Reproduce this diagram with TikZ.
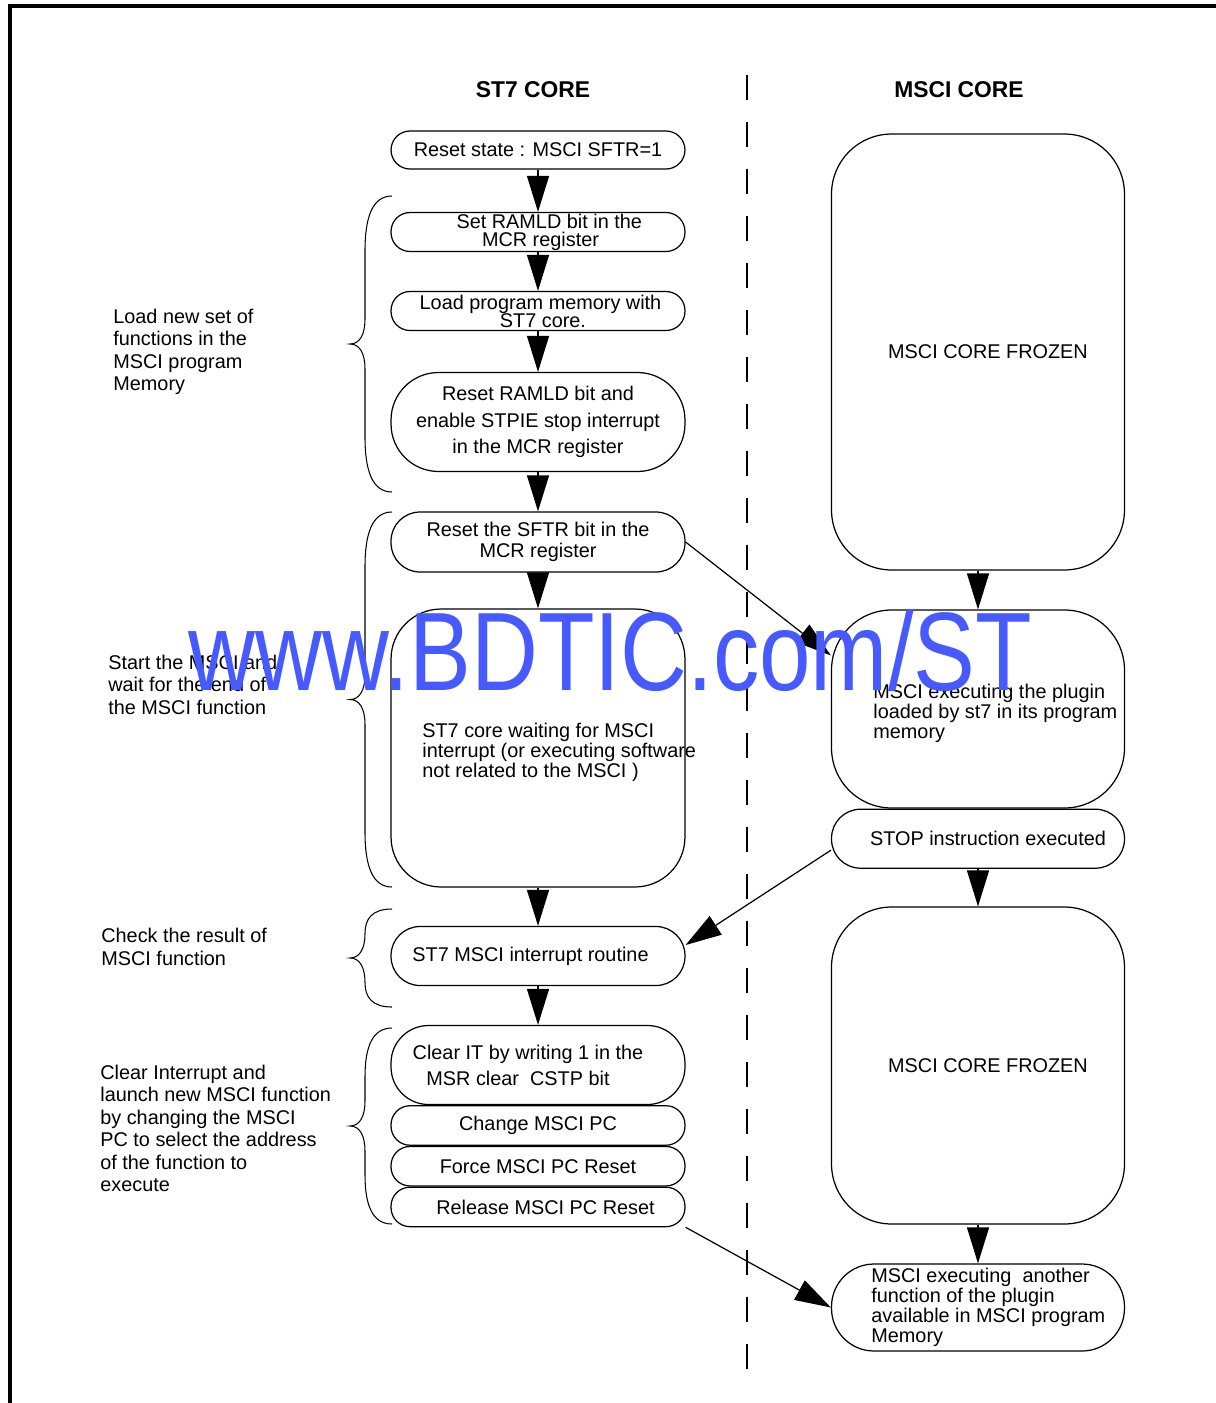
\documentclass[tikz,border=0pt]{standalone}
\usepackage{fontspec}
\setmainfont{Liberation Sans}
\usetikzlibrary{arrows.meta,positioning}
\definecolor{wmblue}{RGB}{70,90,255}

\begin{document}
\begin{tikzpicture}[
    x=0.02cm, y=-0.02cm,
    box/.style={draw, line width=0.7pt, rounded corners=0.38cm, minimum width=5.88cm, minimum height=0.78cm, inner xsep=2pt, inner ysep=0pt, align=center, font=\fontsize{11.3}{11.4}\selectfont},
    bigbox/.style={box, rounded corners=1.2cm},
    inner/.style={align=left, inner sep=0pt, font=\fontsize{11.3}{11.4}\selectfont},
    note/.style={align=left, inner sep=0pt, anchor=west, font=\fontsize{11.3}{12.8}\selectfont},
    header/.style={font=\bfseries\fontsize{13}{15}\selectfont},
    flow/.style={-{Triangle[length=0.72cm,width=0.44cm]}, line width=0.7pt},
    divider/.style={line width=1.2pt, dash pattern=on 0.5cm off 0.44cm},
    frame/.style={line width=2pt},
    watermark/.style={text=wmblue, inner sep=0pt, anchor=base west, font=\fontsize{63.5}{64}\selectfont},
    pics/lbrace/.style={code={
        \pgfmathsetmacro\brH{#1/2}
        \pgfmathsetmacro\brC{min(55,#1/4)}
        \pgfmathsetmacro\brT{min(25,#1/4)}
        \draw[line width=0.6pt] (0,0) .. controls (-20,0) and (-27,{0.4*\brC}) .. (-27,\brC)
            -- (-27,{\brH-\brT}) .. controls (-27,{\brH-0.4*\brT}) and (-32,\brH) .. (-42,\brH)
            .. controls (-32,\brH) and (-27,{\brH+0.4*\brT}) .. (-27,{\brH+\brT})
            -- (-27,{#1-\brC}) .. controls (-27,{#1-0.4*\brC}) and (-20,#1) .. (0,#1);
    }}
]
    \useasboundingbox (0,0) rectangle (1216,1403);
    \draw[frame] (10,1403) -- (10,6) -- (1216,6);
    \draw[divider] (747,75) -- (747,1385);

    \node[header] (st7head) at (533,90) {ST7 CORE};
    \node[header] (mscihead) at (959,90) {MSCI CORE};

    % ST7 side
    \node (reset) [box, minimum height=0.76cm] at (538,150) {Reset state : MSCI SFTR=1};
    \node (setram) [box, font=\fontsize{11.3}{10.3}\selectfont] at (538,232) {\hspace*{0.45cm}Set RAMLD bit in the\\\hspace*{0.1cm}MCR register};
    \node (load) [box, font=\fontsize{11.3}{10.3}\selectfont] at (538,311) {\hspace*{0.1cm}Load program memory with\\\hspace*{0.2cm}ST7 core.};
    \node (resram) [box, rounded corners=0.95cm, minimum height=1.98cm, font=\fontsize{11.3}{15.2}\selectfont] at (538,422) {Reset RAMLD bit and\\enable STPIE stop interrupt\\in the MCR register};
    \node (sftr) [box, rounded corners=0.58cm, minimum height=1.2cm, font=\fontsize{11.3}{12}\selectfont] at (538,542) {Reset the SFTR bit in the\\MCR register};
    \node (wait) [box, rounded corners=1cm, minimum height=5.56cm] at (538,748) {};
    \node (waittxt) [inner, anchor=west] at (422,752) {ST7 core waiting for MSCI\\interrupt (or executing software\\not related to the MSCI )};
    \node (irq) [box, rounded corners=0.58cm, minimum height=1.18cm] at (538,956) {ST7 MSCI interrupt routine\hspace*{0.3cm}};
    \node (clrit) [box, rounded corners=0.75cm, minimum height=1.58cm, font=\fontsize{11.3}{14.8}\selectfont] at (538,1065) {Clear IT by writing 1 in the\hspace*{0.4cm}\\MSR clear\ \ CSTP bit\hspace*{0.8cm}};
    \node (chpc) [box, minimum height=0.79cm, below=0pt of clrit] {Change MSCI PC};
    \node (forcepc) [box, minimum height=0.79cm, below=0pt of chpc] {Force MSCI PC Reset};
    \node (relpc) [box, minimum height=0.79cm, below=0pt of forcepc] {\hspace*{0.3cm}Release MSCI PC Reset};

    % MSCI side
    \node (frozen) [bigbox, minimum width=5.86cm, minimum height=8.72cm] at (978,352) {\hspace*{0.4cm}MSCI CORE FROZEN};
    \node (plugin) [bigbox, minimum width=5.86cm, minimum height=3.96cm] at (978,709) {};
    \node (plugintxt) [inner, anchor=west] at (873,713) {MSCI executing the plugin\\loaded by st7 in its program\\memory};
    \node (stop) [box, rounded corners=0.58cm, minimum width=5.86cm, minimum height=1.18cm, below=0pt of plugin] {\hspace*{0.4cm}STOP instruction executed};
    \node (frozenb) [bigbox, minimum width=5.86cm, minimum height=6.34cm] at (978,1065.5) {\hspace*{0.4cm}MSCI CORE FROZEN};
    \node (another) [box, rounded corners=0.85cm, minimum width=5.86cm, minimum height=1.74cm] at (978,1307.5) {};
    \node (anothertxt) [inner, anchor=west] at (871,1307) {MSCI executing\ \ another\\function of the plugin\\available in MSCI program\\Memory};

    % braces and their notes
    \pic (brload) at (392,196) {lbrace=296};
    \pic (brstart) at (392,512) {lbrace=375};
    \pic (brcheck) at (392,909) {lbrace=98};
    \pic (brclear) at (392,1028) {lbrace=196};
    \node (noteload) [note] at (113,352) {Load new set of\\functions in the\\MSCI program\\Memory};
    \node (notestart) [note] at (108,684.5) {Start the MSCI and\\wait for the end of\\the MSCI function};
    \node (notecheck) [note] at (101,947) {Check the result of\\MSCI function};
    \node (noteclear) [note] at (100,1128.5) {Clear Interrupt and\\launch new MSCI function\\by changing the MSCI\\PC to select the address\\of the function to\\execute};

    \draw [flow] (reset) -- (setram);
    \draw [flow] (setram) -- (load);
    \draw [flow] (load) -- (resram);
    \draw [flow] (resram) -- (sftr);
    \draw [flow] (sftr) -- (wait);
    \draw [flow] (wait) -- (irq);
    \draw [flow] (irq) -- (clrit);
    \draw [flow] (frozen) -- (plugin);
    \draw [flow] (stop) -- (frozenb);
    \draw [flow] (frozenb) -- (another);
    \draw [flow] (sftr.east) -- (plugin.160);
    \draw [flow] ([yshift=-0.23cm]stop.west) -- ([yshift=0.22cm]irq.east);
    \draw [flow] (relpc.south east) -- (another.west);

    \node (wmark) [watermark] at (188,690) {\scalebox{0.83}[1]{www.BDTIC.com/ST}};
\end{tikzpicture}
\end{document}
